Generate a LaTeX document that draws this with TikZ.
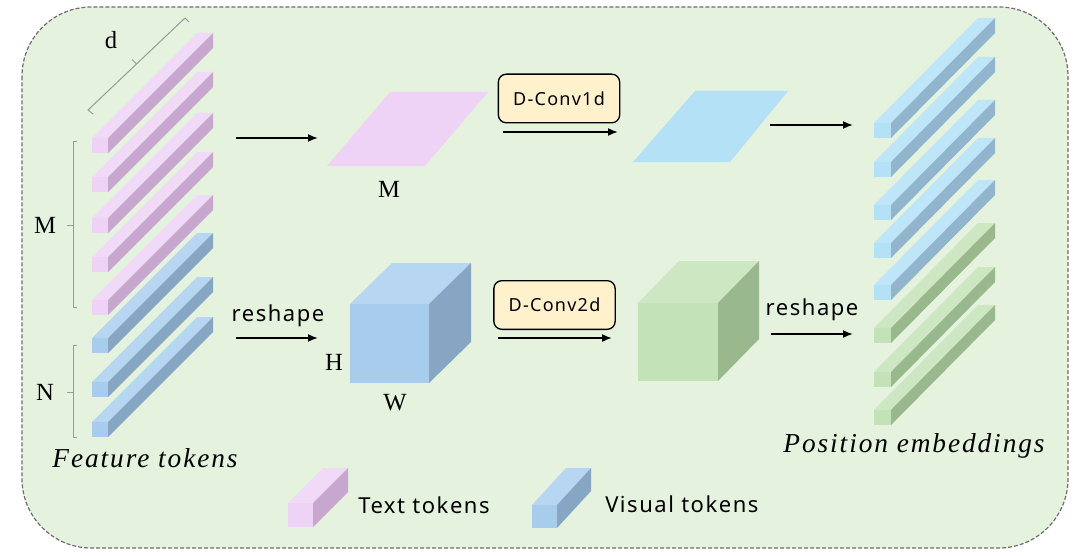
\documentclass[tikz,border=0pt]{standalone}
\usepackage{fontspec}
\setmainfont{Liberation Serif}
\newfontfamily\sansf[LetterSpace=7]{Noto Sans}
\newfontfamily\itsp[LetterSpace=7]{Liberation Serif}
\usetikzlibrary{arrows.meta}
\definecolor{bgc}{HTML}{E4F2DE}
\definecolor{borderc}{HTML}{6E6E6E}
\definecolor{pinkF}{HTML}{EFD3F7}
\definecolor{pinkT}{HTML}{F1D9F8}
\definecolor{pinkS}{HTML}{C8A7CF}
\definecolor{blueF}{HTML}{A8CCEC}
\definecolor{blueT}{HTML}{B6D6F1}
\definecolor{blueS}{HTML}{87A6C3}
\definecolor{lblueF}{HTML}{B4E1F6}
\definecolor{lblueT}{HTML}{BEE6F8}
\definecolor{lblueS}{HTML}{90B5CD}
\definecolor{greenF}{HTML}{C3E2B8}
\definecolor{greenT}{HTML}{CCE7C2}
\definecolor{greenS}{HTML}{9AB88E}
\definecolor{boxc}{HTML}{FFF1CC}
\definecolor{bracec}{HTML}{9A9A9A}
% #1 x, #2 y (front top-left), #3 w, #4 h, #5 dx, #6 dy (up), #7 front, #8 top, #9 side
\newcommand\prism[9]{%
  \fill[#7] (#1,#2) rectangle ++(#3,#4);
  \fill[#8] (#1,#2) -- ++(#3,0) -- ++(#5,-#6) -- ++(-#3,0) -- cycle;
  \fill[#9] (#1+#3,#2) -- ++(0,#4) -- ++(#5,-#6) -- ++(0,-#4) -- cycle;
}
\begin{document}
\begin{tikzpicture}[x=0.75pt,y=-0.75pt,
  arr/.style={line width=1.3pt,-{Latex[length=7.5pt,width=6pt]}},
  serifl/.style={inner sep=0pt,font=\fontsize{18.5}{22}\selectfont},
  ital/.style={inner sep=0pt,font=\itsp\itshape\fontsize{20.5}{24}\selectfont},
  sanst/.style={inner sep=0pt,font=\sansf\fontsize{16.5}{20}\selectfont},
  convbox/.style={draw=black,line width=1pt,fill=boxc,rounded corners=6pt,
     minimum width=91pt,minimum height=36.5pt,inner sep=0pt,
     font=\sansf\fontsize{13.5}{16}\selectfont},
  brk/.style={draw=bracec,line width=0.75pt}]
\useasboundingbox (0,0) rectangle (1080,556);
% background panel
\draw[fill=bgc,draw=borderc,line width=0.9pt,dash pattern=on 3pt off 1.5pt,
  rounded corners=52pt] (22,7) rectangle (1068,548);

% ---- Feature tokens (left stack)
\foreach \yy in {138,177,218,257,300}{\prism{92}{\yy}{16}{15}{105}{105}{pinkF}{pinkT}{pinkS}}
\foreach \yy in {338,382,422}{\prism{92}{\yy}{16}{15}{105}{105}{blueF}{blueT}{blueS}}

% d brace
\draw[brk] (93,114) -- (88,110) -- (185,18) -- (189,22);
\draw[brk] (136.5,64) -- (132,59.5);
\node[serifl] (dlab) at (111,40) {d};
% M bracket
\draw[brk] (77,142) -- (73,142) -- (73,307) -- (77,307);
\draw[brk] (73,225) -- (67,225);
\node[serifl] (mlab) at (45,225) {M};
% N bracket
\draw[brk] (77,345) -- (73,345) -- (73,437) -- (77,437);
\draw[brk] (73,392) -- (67,392);
\node[serifl] (nlab) at (45,392) {N};

\node[ital,anchor=base] (feat) at (145,467) {Feature tokens};

% ---- top row
\coordinate (a1s) at (236,138); \coordinate (a1e) at (318,138);
\draw[arr] (a1s) -- (a1e);
\fill[pinkF] (327,166) -- (425,166) -- (488,92) -- (390,92) -- cycle;
\node[serifl] (mlab2) at (389,189) {M};
\node[convbox] (conv1) at (559,98.5) {D-Conv1d};
\coordinate (a2s) at (503,132); \coordinate (a2e) at (618,132);
\draw[arr] (a2s) -- (a2e);
\fill[lblueF] (633,162) -- (730,162) -- (788,91) -- (695,91) -- cycle;
\coordinate (a3s) at (770,125); \coordinate (a3e) at (853,125);
\draw[arr] (a3s) -- (a3e);

% ---- bottom row
\node[sanst,anchor=base] (resh1) at (278,321) {reshape};
\coordinate (b1s) at (236,338); \coordinate (b1e) at (318,338);
\draw[arr] (b1s) -- (b1e);
\prism{350}{304}{79}{79}{42}{41}{blueF}{blueT}{blueS}
\node[serifl] (hlab) at (334,362) {H};
\node[serifl] (wlab) at (395,403) {W};
\node[convbox] (conv2) at (554.5,305) {D-Conv2d};
\coordinate (b2s) at (498,338); \coordinate (b2e) at (612,338);
\draw[arr] (b2s) -- (b2e);
\prism{638}{303}{80}{78}{41}{42}{greenF}{greenT}{greenS}
\node[sanst,anchor=base] (resh2) at (812,315) {reshape};
\coordinate (b3s) at (771,334); \coordinate (b3e) at (853,334);
\draw[arr] (b3s) -- (b3e);

% ---- Position embeddings (right stack)
\foreach \yy in {123,162,205,243,285}{\prism{874}{\yy}{17}{15}{104}{105}{lblueF}{lblueT}{lblueS}}
\foreach \yy in {328,372,410}{\prism{874}{\yy}{17}{15}{104}{105}{greenF}{greenT}{greenS}}
\node[ital,anchor=base] (pos) at (914,452) {Position embeddings};

% ---- legend
\prism{288}{503}{25}{24}{35}{35}{pinkF}{pinkT}{pinkS}
\node[sanst,anchor=base west] (ltext) at (358,513) {Text tokens};
\prism{532}{505}{25}{23}{34}{37}{blueF}{blueT}{blueS}
\node[sanst,anchor=base west] (lvis) at (605,512) {Visual tokens};
\end{tikzpicture}
\end{document}
